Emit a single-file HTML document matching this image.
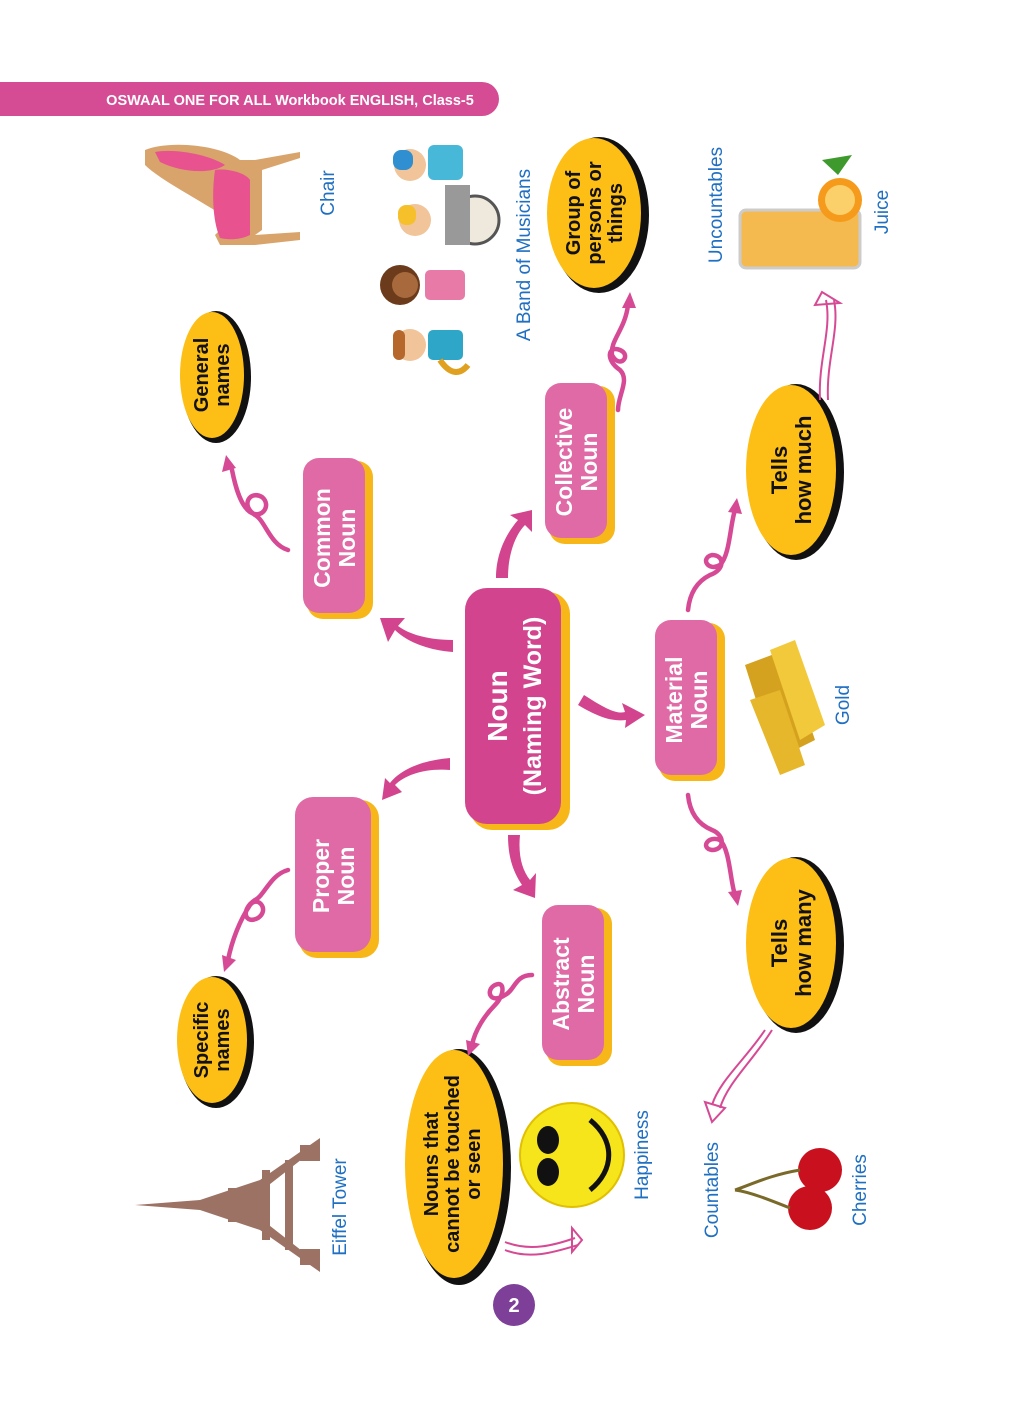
<!DOCTYPE html>
<html><head><meta charset="utf-8"><style>
html,body{margin:0;padding:0;background:#fff;}
svg{display:block}
.n{font-family:"Liberation Sans",sans-serif;font-weight:bold;fill:#fff;text-anchor:middle}
.e{font-family:"Liberation Sans",sans-serif;font-weight:bold;fill:#111;text-anchor:middle}
.l{font-family:"Liberation Sans",sans-serif;fill:#1f6fc2;text-anchor:middle}
.c{fill:none;stroke:#d64a95;stroke-width:4.5;stroke-linecap:round}
.t{fill:none;stroke:#d64a95;stroke-width:2}
</style></head><body>
<svg width="1024" height="1408" viewBox="0 0 1024 1408" xmlns="http://www.w3.org/2000/svg">
<path d="M0 82 H482 A17 17 0 0 1 482 116 H0 Z" fill="#d54c94"/>
<text x="290" y="105" font-family="Liberation Sans,sans-serif" font-weight="bold" font-size="14.5" fill="#fff" text-anchor="middle">OSWAAL ONE FOR ALL Workbook ENGLISH, Class-5</text>

<g>
<rect x="470" y="592" width="100" height="238" rx="22" fill="#f7b719"/>
<rect x="465" y="588" width="96" height="236" rx="22" fill="#d2448d"/>
<text class="n" font-size="28" transform="translate(513,706) rotate(-90)"><tspan x="0" dy="-6">Noun</tspan><tspan x="0" dy="34" font-size="25">(Naming Word)</tspan></text>

<rect x="307" y="461" width="66" height="158" rx="16" fill="#f7b719"/>
<rect x="303" y="458" width="62" height="155" rx="16" fill="#e06aa6"/>
<text class="n" font-size="23" transform="translate(334,538) rotate(-90)"><tspan x="0" dy="-4">Common</tspan><tspan x="0" dy="25">Noun</tspan></text>

<rect x="549" y="386" width="66" height="158" rx="16" fill="#f7b719"/>
<rect x="545" y="383" width="62" height="155" rx="16" fill="#e06aa6"/>
<text class="n" font-size="23" transform="translate(576,462) rotate(-90)"><tspan x="0" dy="-4">Collective</tspan><tspan x="0" dy="25">Noun</tspan></text>

<rect x="299" y="800" width="80" height="158" rx="18" fill="#f7b719"/>
<rect x="295" y="797" width="76" height="155" rx="18" fill="#e06aa6"/>
<text class="n" font-size="23" transform="translate(333,876) rotate(-90)"><tspan x="0" dy="-4">Proper</tspan><tspan x="0" dy="25">Noun</tspan></text>

<rect x="659" y="623" width="66" height="158" rx="16" fill="#f7b719"/>
<rect x="655" y="620" width="62" height="155" rx="16" fill="#e06aa6"/>
<text class="n" font-size="23" transform="translate(686,700) rotate(-90)"><tspan x="0" dy="-4">Material</tspan><tspan x="0" dy="25">Noun</tspan></text>

<rect x="546" y="908" width="66" height="158" rx="16" fill="#f7b719"/>
<rect x="542" y="905" width="62" height="155" rx="16" fill="#e06aa6"/>
<text class="n" font-size="23" transform="translate(573,984) rotate(-90)"><tspan x="0" dy="-4">Abstract</tspan><tspan x="0" dy="25">Noun</tspan></text>
</g>

<g>
<ellipse cx="216" cy="377" rx="35" ry="66" fill="#111"/>
<ellipse cx="212" cy="375" rx="32" ry="63" fill="#fdbe15"/>
<text class="e" font-size="20" transform="translate(212,375) rotate(-90)"><tspan x="0" dy="-4">General</tspan><tspan x="0" dy="21">names</tspan></text>

<ellipse cx="599" cy="215" rx="50" ry="78" fill="#111"/>
<ellipse cx="594" cy="213" rx="47" ry="75" fill="#fdbe15"/>
<text class="e" font-size="20" transform="translate(594,213) rotate(-90)"><tspan x="0" dy="-14">Group of</tspan><tspan x="0" dy="21">persons or</tspan><tspan x="0" dy="21">things</tspan></text>

<ellipse cx="796" cy="472" rx="48" ry="88" fill="#111"/>
<ellipse cx="791" cy="470" rx="45" ry="85" fill="#fdbe15"/>
<text class="e" font-size="22" transform="translate(791,470) rotate(-90)"><tspan x="0" dy="-4">Tells</tspan><tspan x="0" dy="24">how much</tspan></text>

<ellipse cx="796" cy="945" rx="48" ry="88" fill="#111"/>
<ellipse cx="791" cy="943" rx="45" ry="85" fill="#fdbe15"/>
<text class="e" font-size="22" transform="translate(791,943) rotate(-90)"><tspan x="0" dy="-4">Tells</tspan><tspan x="0" dy="24">how many</tspan></text>

<ellipse cx="216" cy="1042" rx="38" ry="66" fill="#111"/>
<ellipse cx="212" cy="1040" rx="35" ry="63" fill="#fdbe15"/>
<text class="e" font-size="20" transform="translate(212,1040) rotate(-90)"><tspan x="0" dy="-4">Specific</tspan><tspan x="0" dy="21">names</tspan></text>

<ellipse cx="459" cy="1167" rx="52" ry="118" fill="#111"/>
<ellipse cx="454" cy="1164" rx="49" ry="114" fill="#fdbe15"/>
<text class="e" font-size="20" transform="translate(454,1164) rotate(-90)"><tspan x="0" dy="-16">Nouns that</tspan><tspan x="0" dy="21">cannot be touched</tspan><tspan x="0" dy="21">or seen</tspan></text>
</g>

<g fill="#d2448d">
<path d="M453 640 L453 652 C425 650 405 640 395 630 L388 642 L380 618 L405 618 L398 626 C410 635 430 640 453 640Z"/>
<path d="M496 578 L508 578 C508 555 515 535 525 525 L532 532 L532 510 L510 515 L518 520 C505 535 496 555 496 578Z"/>
<path d="M450 758 L450 770 C425 768 405 775 395 785 L402 792 L382 800 L385 778 L390 783 C402 768 425 760 450 758Z"/>
<path d="M578 705 L584 695 C600 705 615 715 625 712 L622 703 L645 715 L625 728 L626 720 C610 722 595 715 578 705Z"/>
<path d="M508 835 L520 835 C518 855 522 870 530 880 L536 873 L535 898 L513 890 L522 885 C512 870 508 855 508 835Z"/>
</g>

<path class="c" d="M288 550 C270 545 265 520 255 515 C240 505 250 490 262 497 C272 505 262 520 250 512 C240 505 235 485 232 470"/>
<polygon points="226,455 222,472 236,468" fill="#d64a95"/>
<path class="c" d="M618 410 C618 395 630 380 620 370 C605 360 608 345 620 350 C632 355 620 370 612 355 C610 340 625 330 628 305"/>
<polygon points="630,292 622,308 636,308" fill="#d64a95"/>
<path class="c" d="M288 870 C270 875 265 895 255 900 C240 910 245 925 258 918 C270 910 258 895 250 905 C240 920 232 940 228 960"/>
<polygon points="224,972 222,955 236,960" fill="#d64a95"/>
<path class="c" d="M532 975 C515 975 515 990 505 995 C490 1005 485 990 495 985 C505 980 505 995 495 1005 C485 1015 475 1030 472 1045"/>
<polygon points="468,1056 466,1040 480,1044" fill="#d64a95"/>
<path class="c" d="M688 610 C690 590 700 580 710 575 C725 570 725 555 712 555 C700 558 708 572 720 565 C730 555 730 525 735 510"/>
<polygon points="737,498 728,512 742,514" fill="#d64a95"/>
<path class="c" d="M688 795 C690 815 700 825 712 830 C725 835 725 850 712 850 C700 848 708 835 720 840 C730 850 730 880 735 895"/>
<polygon points="738,906 728,892 742,890" fill="#d64a95"/>
<path class="t" d="M820 400 C818 360 832 330 826 300 M828 400 C826 360 840 330 834 300"/><polygon points="822,292 815,305 840,303" fill="none" stroke="#d64a95" stroke-width="2"/>
<path class="t" d="M765 1030 C745 1060 720 1080 712 1105 M772 1030 C752 1062 728 1082 720 1108"/><polygon points="705,1102 712,1122 725,1108" fill="none" stroke="#d64a95" stroke-width="2"/>
<path class="t" d="M505 1242 C530 1252 555 1245 575 1238 M505 1250 C530 1260 555 1252 578 1245"/><polygon points="572,1228 582,1240 572,1252" fill="none" stroke="#d64a95" stroke-width="2"/>

<text class="l" font-size="19" transform="translate(334,193) rotate(-90)">Chair</text>
<text class="l" font-size="19" transform="translate(530,255) rotate(-90)">A Band of Musicians</text>
<text class="l" font-size="19" transform="translate(722,205) rotate(-90)">Uncountables</text>
<text class="l" font-size="19" transform="translate(888,212) rotate(-90)">Juice</text>
<text class="l" font-size="19" transform="translate(849,705) rotate(-90)">Gold</text>
<text class="l" font-size="19" transform="translate(648,1155) rotate(-90)">Happiness</text>
<text class="l" font-size="19" transform="translate(718,1190) rotate(-90)">Countables</text>
<text class="l" font-size="19" transform="translate(866,1190) rotate(-90)">Cherries</text>
<text class="l" font-size="19" transform="translate(346,1207) rotate(-90)">Eiffel Tower</text>

<g>
<path d="M145 150 C170 140 220 145 240 160 L255 160 L300 152 L300 158 L262 170 L262 230 L255 235 L300 232 L300 240 L255 245 L220 245 L215 235 L230 220 C200 200 160 180 145 165Z" fill="#d8a46c"/>
<path d="M215 170 C225 168 245 172 250 180 L250 235 C240 240 228 240 220 238 C212 220 212 190 215 170Z" fill="#e8528f"/>
<path d="M155 152 C175 148 210 155 225 165 C210 175 180 172 160 162Z" fill="#e8528f"/>
</g>
<g>
<circle cx="410" cy="165" r="16" fill="#f1c49a"/><rect x="393" y="150" width="20" height="20" rx="8" fill="#2f8fd0"/>
<rect x="428" y="145" width="35" height="35" rx="6" fill="#48b8d8"/>
<circle cx="415" cy="220" r="16" fill="#f1c49a"/><rect x="398" y="205" width="18" height="20" rx="8" fill="#f6c02a"/>
<circle cx="475" cy="220" r="24" fill="#efe8dc" stroke="#555" stroke-width="3"/>
<rect x="445" y="185" width="25" height="60" fill="#999"/>
<circle cx="400" cy="285" r="20" fill="#6b3b1c"/><circle cx="405" cy="285" r="13" fill="#a86a3c"/>
<rect x="425" y="270" width="40" height="30" rx="5" fill="#e87aa8"/>
<circle cx="410" cy="345" r="16" fill="#f1c49a"/><rect x="393" y="330" width="12" height="30" rx="6" fill="#b5672c"/>
<rect x="428" y="330" width="35" height="30" rx="5" fill="#2da6c8"/>
<path d="M440 360 C450 375 460 375 468 365" stroke="#e0a020" stroke-width="6" fill="none"/>
</g>
<g>
<rect x="740" y="210" width="120" height="58" rx="6" fill="#f4b33c" opacity="0.9"/>
<rect x="740" y="210" width="120" height="58" rx="6" fill="none" stroke="#ccc" stroke-width="3"/>
<circle cx="840" cy="200" r="22" fill="#f59a1a"/><circle cx="840" cy="200" r="15" fill="#fbd06a"/>
<path d="M822 160 L838 175 L852 155Z" fill="#3f9a2e"/>
</g>
<g>
<polygon points="745,665 785,650 815,740 775,760" fill="#d5a21f"/>
<polygon points="770,650 795,640 825,725 800,740" fill="#f1c93a"/>
<polygon points="750,700 780,690 805,765 780,775" fill="#e7b72b"/>
</g>
<g>
<circle cx="572" cy="1155" r="52" fill="#f5e51a" stroke="#e0c000" stroke-width="2"/>
<ellipse cx="548" cy="1140" rx="11" ry="14" fill="#111"/>
<ellipse cx="548" cy="1172" rx="11" ry="14" fill="#111"/>
<path d="M590 1120 C615 1140 615 1170 590 1190" stroke="#111" stroke-width="5" fill="none"/>
</g>
<g>
<circle cx="820" cy="1170" r="22" fill="#c8101e"/>
<circle cx="810" cy="1208" r="22" fill="#c8101e"/>
<path d="M800 1170 C770 1175 750 1185 735 1190 M790 1208 C770 1200 750 1192 735 1190" stroke="#7a6a2a" stroke-width="3" fill="none"/>
</g>
<g fill="#8a5a4a" opacity="0.85">
<polygon points="135,1205 200,1200 260,1180 320,1138 320,1145 265,1188 265,1222 320,1265 320,1272 260,1230 200,1210"/>
<rect x="228" y="1188" width="8" height="34"/>
<rect x="262" y="1170" width="8" height="70"/>
<rect x="300" y="1145" width="20" height="16"/>
<rect x="300" y="1249" width="20" height="16"/>
<rect x="285" y="1160" width="8" height="90"/>
</g>

<circle cx="514" cy="1305" r="21" fill="#7d3f98"/>
<text x="514" y="1312" font-family="Liberation Sans,sans-serif" font-weight="bold" font-size="20" fill="#fff" text-anchor="middle">2</text>
</svg>
</body></html>
